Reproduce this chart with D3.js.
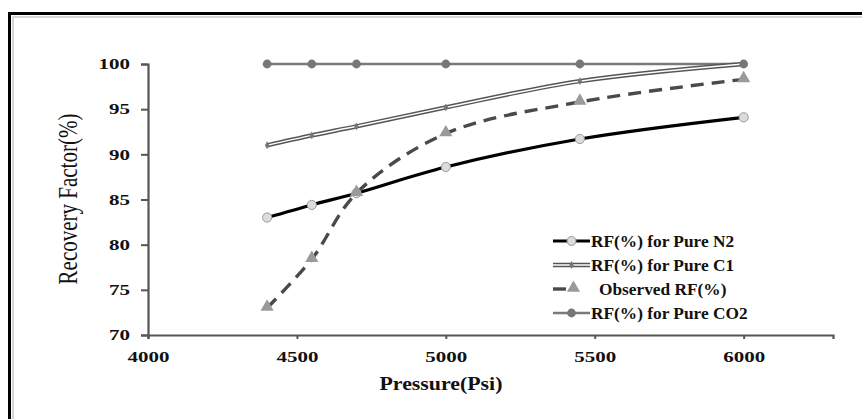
<!DOCTYPE html>
<html><head><meta charset="utf-8">
<script src="https://cdn.jsdelivr.net/npm/d3@7"></script>
<style>html,body{margin:0;padding:0;background:#fff;overflow:hidden}</style>
</head><body><svg id="c" width="862" height="419"></svg>
<script>
const pressure = [4400, 4550, 4700, 5000, 5450, 6000];
const rfN2 = [83.0, 84.4, 85.7, 88.6, 91.7, 94.1];
const rfC1 = [91.0, 92.1, 93.1, 95.2, 98.1, 100.0];
const rfObserved = [73.0, 78.4, 85.7, 92.3, 95.8, 98.3];
const rfCO2 = [100, 100, 100, 100, 100, 100];
const xTicks = [4000, 4500, 5000, 5500, 6000];
const yTicks = [70, 75, 80, 85, 90, 95, 100];
const seriesNames = ["RF(%) for Pure N2", "RF(%) for Pure C1", "Observed RF(%)", "RF(%) for Pure CO2"];

const svg = d3.select("#c");
const font = "'Liberation Serif','Times New Roman',serif";

// frame
svg.append("rect").attr("x", 9.5).attr("y", 13.5).attr("width", 900).attr("height", 450)
  .attr("fill", "none").attr("stroke", "#000").attr("stroke-width", 3);
svg.append("rect").attr("x", 13).attr("y", 17).attr("width", 900).attr("height", 450)
  .attr("fill", "none").attr("stroke", "#c8c8c8").attr("stroke-width", 1.5);

const x = d3.scaleLinear().domain([4000, 6300]).range([148, 833]);
const y = d3.scaleLinear().domain([70, 100]).range([335, 64]);

const sx = 1.4; // horizontal stretch of the source picture's text
// axes
const gx = svg.append("g").attr("transform", `translate(0,${y(70)})`)
  .call(d3.axisBottom(x).tickValues(xTicks).tickSize(4).tickFormat(d3.format("d")).tickPadding(10));
const gy = svg.append("g").attr("transform", `translate(${x(4000)},0)`)
  .call(d3.axisLeft(y).tickValues(yTicks).tickSize(7).tickPadding(10));
[gx, gy].forEach(g => {
  g.select(".domain").attr("stroke", "#555").attr("stroke-width", 2.2);
  g.selectAll(".tick line").attr("stroke", "#555").attr("stroke-width", 2);
  g.selectAll(".tick text").attr("font-family", font).attr("font-weight", "bold")
    .attr("font-size", 15).attr("fill", "#111");
});
gx.selectAll(".tick text").attr("dy", "0.9em").attr("transform", `scale(${sx},1)`);
gy.selectAll(".tick text").attr("x", -18 / sx).attr("transform", `scale(${sx},1)`);

// titles
svg.append("text").attr("transform", "translate(441,390) scale(1.15,1)").attr("text-anchor", "middle")
  .attr("font-family", font).attr("font-weight", "bold").attr("font-size", 19)
  .attr("fill", "#111").text("Pressure(Psi)");
svg.append("text").attr("transform", "translate(77,199) rotate(-90) scale(1,1.25)").attr("text-anchor", "middle")
  .attr("font-family", font).attr("font-size", 21).attr("fill", "#111").text("Recovery Factor(%)");

const curve = d3.curveCatmullRom.alpha(0.5);
const line = vals => d3.line().x((d, i) => x(pressure[i])).y(d => y(d)).curve(curve)(vals);

// CO2
svg.append("path").attr("d", line(rfCO2)).attr("fill", "none").attr("stroke", "#7a7a7a").attr("stroke-width", 2.6);
// C1 double line
svg.append("path").attr("d", line(rfC1)).attr("fill", "none").attr("stroke", "#555").attr("stroke-width", 4.4);
svg.append("path").attr("d", line(rfC1)).attr("fill", "none").attr("stroke", "#fff").attr("stroke-width", 1.5);
// N2
svg.append("path").attr("d", line(rfN2)).attr("fill", "none").attr("stroke", "#000").attr("stroke-width", 3.2);
// Observed
svg.append("path").attr("d", line(rfObserved)).attr("fill", "none").attr("stroke", "#4a4a4a")
  .attr("stroke-width", 3.4).attr("stroke-dasharray", "13,8");

// markers
const tri = d3.symbol().type(d3.symbolTriangle).size(75);
const dia = d3.symbol().type(d3.symbolDiamond).size(18);
svg.append("g").selectAll("circle").data(rfCO2).join("circle")
  .attr("cx", (d, i) => x(pressure[i])).attr("cy", d => y(d)).attr("r", 4.4).attr("fill", "#777");
svg.append("g").selectAll("path").data(rfC1).join("path")
  .attr("transform", (d, i) => `translate(${x(pressure[i])},${y(d)})`).attr("d", dia).attr("fill", "#777");
svg.append("g").selectAll("circle").data(rfN2).join("circle")
  .attr("cx", (d, i) => x(pressure[i])).attr("cy", d => y(d)).attr("r", 4.6)
  .attr("fill", "#dcdcdc").attr("stroke", "#999").attr("stroke-width", 1);
svg.append("g").selectAll("path").data(rfObserved).join("path")
  .attr("transform", (d, i) => `translate(${x(pressure[i])},${y(d) - 1})`).attr("d", tri).attr("fill", "#9a9a9a");

// legend
const lg = svg.append("g");
const ly = [241, 265, 289, 313];
const lx0 = 553, lx1 = 590;
seriesNames.forEach((name, i) => {
  const g = lg.append("g").attr("transform", `translate(0,${ly[i]})`);
  if (i === 0) {
    g.append("line").attr("x1", lx0).attr("x2", lx1).attr("stroke", "#000").attr("stroke-width", 3.2);
    g.append("circle").attr("cx", (lx0 + lx1) / 2).attr("r", 4.5).attr("fill", "#dcdcdc").attr("stroke", "#999");
  } else if (i === 1) {
    g.append("line").attr("x1", lx0).attr("x2", lx1).attr("stroke", "#555").attr("stroke-width", 4.4);
    g.append("line").attr("x1", lx0).attr("x2", lx1).attr("stroke", "#fff").attr("stroke-width", 1.5);
    g.append("path").attr("transform", `translate(${(lx0 + lx1) / 2},0)`).attr("d", dia).attr("fill", "#777");
  } else if (i === 2) {
    g.append("line").attr("x1", lx0).attr("x2", lx0 + 13).attr("stroke", "#4a4a4a").attr("stroke-width", 3.4);
    g.append("path").attr("transform", `translate(${(lx0 + lx1) / 2 + 2},-1)`).attr("d", tri).attr("fill", "#9a9a9a");
  } else {
    g.append("line").attr("x1", lx0).attr("x2", lx1).attr("stroke", "#7a7a7a").attr("stroke-width", 2.6);
    g.append("circle").attr("cx", (lx0 + lx1) / 2).attr("r", 4.4).attr("fill", "#777");
  }
  g.append("text").attr("transform", `translate(${i === 2 ? 599 : 591},0) scale(1.05,1)`).attr("dy", "0.35em")
    .attr("font-family", font).attr("font-weight", "bold").attr("font-size", 16.5).attr("fill", "#111").text(name);
});
</script>
</body></html>
